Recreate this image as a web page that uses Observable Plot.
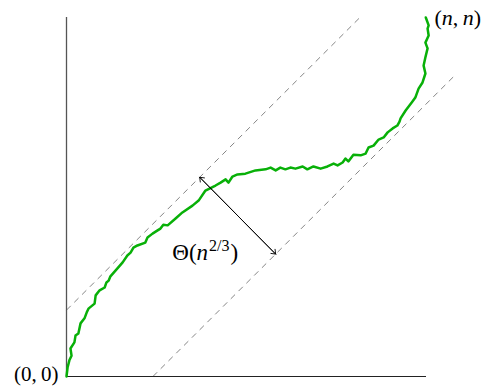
<!DOCTYPE html>
<html>
<head>
<meta charset="utf-8">
<script src="https://cdn.jsdelivr.net/npm/d3@7"></script>
<script src="https://cdn.jsdelivr.net/npm/@observablehq/plot@0.6"></script>
<style>
  html, body { margin: 0; padding: 0; background: #fff; }
</style>
</head>
<body>
<div id="chart"></div>
<script>
// Path of the walk from (0,0) to (n,n), in units where n = 100
const pathX = [0,0.3,0.8,1.4,1.1,2.2,2.5,3.3,3.9,5.0,5.6,6.1,7.8,8.1,9.2,10.6,11.1,11.7,12.2,13.6,15.6,16.9,17.8,18.6,19.7,21.9,22.5,23.9,25.3,26.1,26.9,28.1,30.3,32.2,35.0,36.7,38.6,41.4,42.8,44.2,45.0,46.1,47.5,49.7,52.5,55.3,56.7,58.1,59.4,60.8,62.2,63.6,65.6,66.9,68.6,70.6,72.5,74.2,75.3,76.7,77.5,78.3,79.7,81.7,83.1,83.9,85.3,86.7,88.1,89.2,90.6,91.9,92.5,92.8,94.2,96.1,96.9,97.8,98.9,99.7,99.2,99.7,100.3,99.7,100.6,100.3,100.6,99.8];
const pathY = [0,2.5,4.5,5.8,7.8,9.5,11.4,12.0,14.8,16.2,17.8,18.9,20.3,22.6,24.0,24.8,26.2,26.7,27.9,29.5,31.8,33.7,34.5,35.9,36.5,37.3,38.7,39.8,40.7,41.2,42.3,42.1,44.0,45.7,47.6,49.0,51.8,53.2,54.0,54.9,54.0,55.7,56.3,56.5,57.4,57.7,58.2,57.4,58.2,57.7,58.2,57.9,58.5,57.7,58.5,57.9,58.5,59.3,58.8,59.6,60.7,59.9,61.8,61.6,62.1,63.8,64.3,66.0,66.6,68.0,69.1,69.9,71.0,71.9,74.1,76.6,77.7,80.2,81.9,84.4,86.6,88.9,91.4,93.0,95.0,96.9,97.8,100];

// Dashed diagonal band lines (y = x + offset), with their extents
const bandX1 = [0, 24];
const bandY1 = [18.5, 0];
const bandX2 = [81.5, 108];
const bandY2 = [100, 84];

// Double arrow across the band (drawn once in each direction)
const arrowX1 = [58.1, 37.0];
const arrowY1 = [34.1, 55.5];
const arrowX2 = [37.0, 58.1];
const arrowY2 = [55.5, 34.1];

// Labels
const labelText = ["(0, 0)", "(n, n)", "Θ(n2/3)"];
const labelX = [0, 100, 29.4];
const labelY = [0, 100, 34.5];

const walk = pathX.map((x, i) => ({x, y: pathY[i]}));
const bands = bandX1.map((x1, i) => ({x1, y1: bandY1[i], x2: bandX2[i], y2: bandY2[i]}));
const arrows = arrowX1.map((x1, i) => ({x1, y1: arrowY1[i], x2: arrowX2[i], y2: arrowY2[i]}));
const labels = labelText.map((t, i) => ({t, x: labelX[i], y: labelY[i]}));

const font = "'Liberation Serif', 'Times New Roman', serif";

const svg = Plot.plot({
  width: 489,
  height: 387,
  marginLeft: 66,
  marginRight: 63,
  marginTop: 17,
  marginBottom: 11,
  x: {domain: [0, 100], axis: null},
  y: {domain: [0, 100], axis: null},
  style: {fontFamily: font, background: "#fff"},
  marks: [
    Plot.link(bands, {x1: "x1", y1: "y1", x2: "x2", y2: "y2", stroke: "#777", strokeWidth: 0.9, strokeDasharray: "6,5"}),
    Plot.ruleX([0], {y1: 0, y2: 100, stroke: "#555", strokeWidth: 1.3}),
    Plot.ruleY([0], {x1: 0, x2: 100, stroke: "#222", strokeWidth: 1}),
    Plot.line(walk, {x: "x", y: "y", stroke: "#08b008", strokeWidth: 2.5, strokeLinejoin: "round", curve: "linear"}),
    Plot.arrow(arrows, {x1: "x1", y1: "y1", x2: "x2", y2: "y2", stroke: "#000", strokeWidth: 0.9, headLength: 8, headAngle: 75, insetStart: 0, insetEnd: 0}),
    Plot.text(labels.filter((d, i) => i === 0), {x: "x", y: "y", text: "t", textAnchor: "end", lineAnchor: "middle", dx: -8, dy: -2, fontSize: 21, fill: "#000"}),
    Plot.text(labels.filter((d, i) => i === 1), {x: "x", y: "y", text: "t", textAnchor: "start", lineAnchor: "middle", dx: 8, fontSize: 22, fill: "#000"}),
    Plot.text(labels.filter((d, i) => i === 2), {x: "x", y: "y", text: "t", textAnchor: "start", lineAnchor: "middle", fontSize: 23, fill: "#000"})
  ]
});

const rich = {
  "(n, n)": '(<tspan font-style="italic">n</tspan>,&#8201;<tspan font-style="italic">n</tspan>)',
  "(0, 0)": '(0,&#8201;0)',
  "Θ(n2/3)": 'Θ(<tspan font-style="italic">n</tspan><tspan font-size="16" dx="1" dy="-9">2/3</tspan><tspan dy="9" dx="1">)</tspan>'
};
d3.select(svg).selectAll("text").each(function() {
  const t = this.textContent;
  if (t in rich) this.innerHTML = rich[t];
});

document.getElementById("chart").appendChild(svg);
</script>
</body>
</html>
